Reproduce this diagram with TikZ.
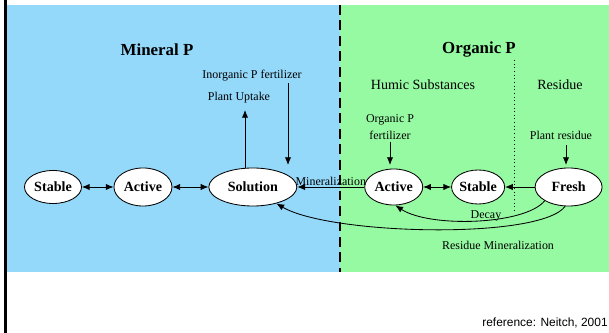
\documentclass[tikz,border=0pt]{standalone}
\usepackage{fontspec}
\setmainfont{Liberation Serif}
\newfontfamily\refsans{Liberation Sans}
\usetikzlibrary{positioning, arrows.meta, shapes.geometric}
\definecolor{mineralblue}{RGB}{148,216,250}
\definecolor{organicgreen}{RGB}{150,250,162}

\begin{document}
\begin{tikzpicture}[x=0.025cm, y=-0.025cm, line width=0.6pt,
		>={Latex[length=5.5pt,width=4.5pt]},
		pool/.style={ellipse, draw, fill=white, inner sep=0pt, font=\fontsize{10}{12}\selectfont\bfseries},
		lbl/.style={font=\fontsize{8.5}{10}\selectfont, inner sep=1pt},
		title/.style={font=\fontsize{12}{14}\selectfont\bfseries},
		sub/.style={font=\fontsize{10}{12}\selectfont}]
		\useasboundingbox (0,0) rectangle (609,333);
		% background
		\fill[mineralblue] (7,5) rectangle (340,272);
		\fill[organicgreen] (340,5) rectangle (609,272);
		\fill[black] (4,0) rectangle (7,333);
		\draw[line width=1.4pt, dash pattern=on 7pt off 4pt] (340,5) -- (340,272);
		\draw[dotted] (514,60) -- (514,210);
		
		% pools
		\node[pool, minimum width=1.425cm, minimum height=0.825cm] (ms) at (53,187) {Stable};
		\node[pool, minimum width=1.45cm, minimum height=0.95cm, right=0.79cm of ms] (ma) {Active};
		\node[pool, minimum width=2.2cm, minimum height=0.95cm, right=0.9cm of ma] (sol) {Solution};
		\node[pool, minimum width=1.45cm, minimum height=0.9cm, right=1.675cm of sol] (oa) {Active};
		\node[pool, minimum width=1.25cm, minimum height=0.85cm, right=0.7cm of oa] (os) {Stable};
		\node[pool, minimum width=1.675cm, minimum height=0.95cm, right=0.74cm of os] (fr) {Fresh};
		
		% labels
		\node[title] (min) at (157,50) {Mineral P};
		\node[title] (org) at (479,50) {Organic P};
		\node[sub] (hum) at (423,85) {Humic Substances};
		\node[sub] (res) at (560,85) {Residue};
		\node[lbl] (inorg) at (252,76) {Inorganic P fertilizer};
		\node[lbl] (up) at (239,98) {Plant Uptake};
		\node[lbl, align=center, font=\fontsize{8.5}{12.5}\selectfont] (orgf) at (390,127) {Organic P\\fertilizer};
		\node[lbl] (pres) at (561,135) {Plant residue};
		\node[lbl] (decay) at (486,216) {Decay};
		\node[lbl] (resmin) at (498,245) {Residue Mineralization};
		\node[font=\refsans\fontsize{8.5}{10}\selectfont] (ref) at (545,323) {reference: Neitch, 2001};
		
		\coordinate (uptip) at (245,110);
		\coordinate (inorgtip) at (288,165);
		\coordinate (orgftip) at (390,165);
		\coordinate (prestip) at (566,165);
		
		\draw[<->] (ms) edge (ma);
		\draw[<->] (ma) edge (sol);
		\draw[<->] (oa) edge (os);
		\draw[->] (fr) edge (os);
		\draw[->] (oa) -- node[lbl, above] {Mineralization} (sol);
		\draw[->] (uptip |- sol.north) -- (uptip);
		\draw[->] (inorgtip |- inorg.south) -- (inorgtip);
		\draw[->] (orgftip |- orgf.south) -- (orgftip);
		\draw[->, shorten <=3pt] (prestip |- pres.south) -- (prestip);
		\draw[->] (fr.210) .. controls (525,225) and (430,228) .. (oa.-85);
		\draw[->] (fr.-100) .. controls (540,240) and (330,235) .. (sol.-35);
		
	\end{tikzpicture}
\end{document}
